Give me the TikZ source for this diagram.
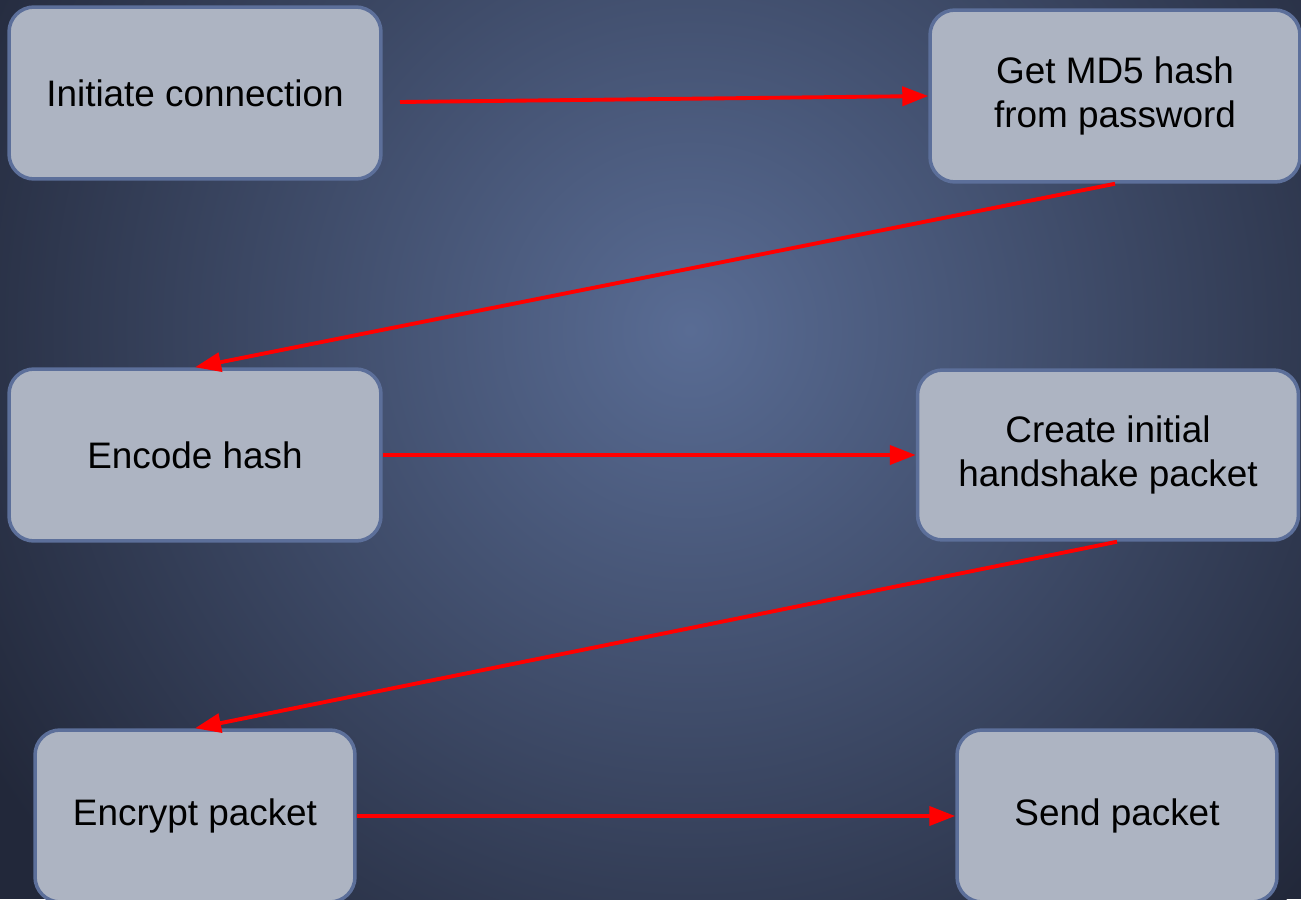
\documentclass[tikz,border=0pt]{standalone}
\usepackage{fontspec}
\setmainfont{Liberation Sans}
\usetikzlibrary{arrows.meta}

\definecolor{bgin}{HTML}{596C94}
\definecolor{bgout}{HTML}{22283A}
\definecolor{boxfill}{HTML}{ADB4C2}
\definecolor{boxline}{HTML}{5C6F9A}

\tikzset{
  stepbox/.style={draw=boxline, line width=2pt, fill=boxfill, rounded corners=0.5cm,
    text=black, align=center, font=\fontsize{21}{25}\selectfont, inner sep=0pt},
  flow/.style={draw=red, line width=2.2pt, -{Triangle[length=0.52cm,width=0.38cm]}}
}

\begin{document}
\begin{tikzpicture}[x=0.02cm, y=-0.02cm]
    % Background
    \useasboundingbox (0,0) rectangle (1301,899);
    \clip (0,0) rectangle (1301,899);
    \fill[bgout] (0,0) rectangle (1301,899);
    \shade[inner color=bgin, outer color=bgout] (690,330) circle [radius=16.5cm];

    % Left column
    \node[stepbox, minimum width=7.44cm, minimum height=3.44cm] (init) at (195,93) {Initiate connection};
    \node[stepbox, minimum width=7.44cm, minimum height=3.44cm] (encode) at (195,455) {Encode hash};
    \node[stepbox, minimum width=6.4cm, minimum height=3.44cm] (encrypt) at (195,816) {Encrypt packet};

    % Right column
    \node[stepbox, minimum width=7.4cm, minimum height=3.44cm] (md5) at (1115,96) {Get MD5 hash\\from password};
    \node[stepbox, minimum width=7.62cm, minimum height=3.4cm] (handshake) at (1108,455) {Create initial\\handshake packet};
    \node[stepbox, minimum width=6.4cm, minimum height=3.44cm] (send) at (1117,816) {Send packet};

    % Arrows
    \coordinate (initout) at (400,102);
    \draw[flow] (initout) -- (md5.west);
    \draw[flow] (md5.south) -- (encode.north);
    \draw[flow] (encode.east) -- (handshake.west);
    \draw[flow] ([xshift=0.18cm]handshake.south) -- (encrypt.north);
    \draw[flow] (encrypt.east) -- (send.west);
\end{tikzpicture}
\end{document}
